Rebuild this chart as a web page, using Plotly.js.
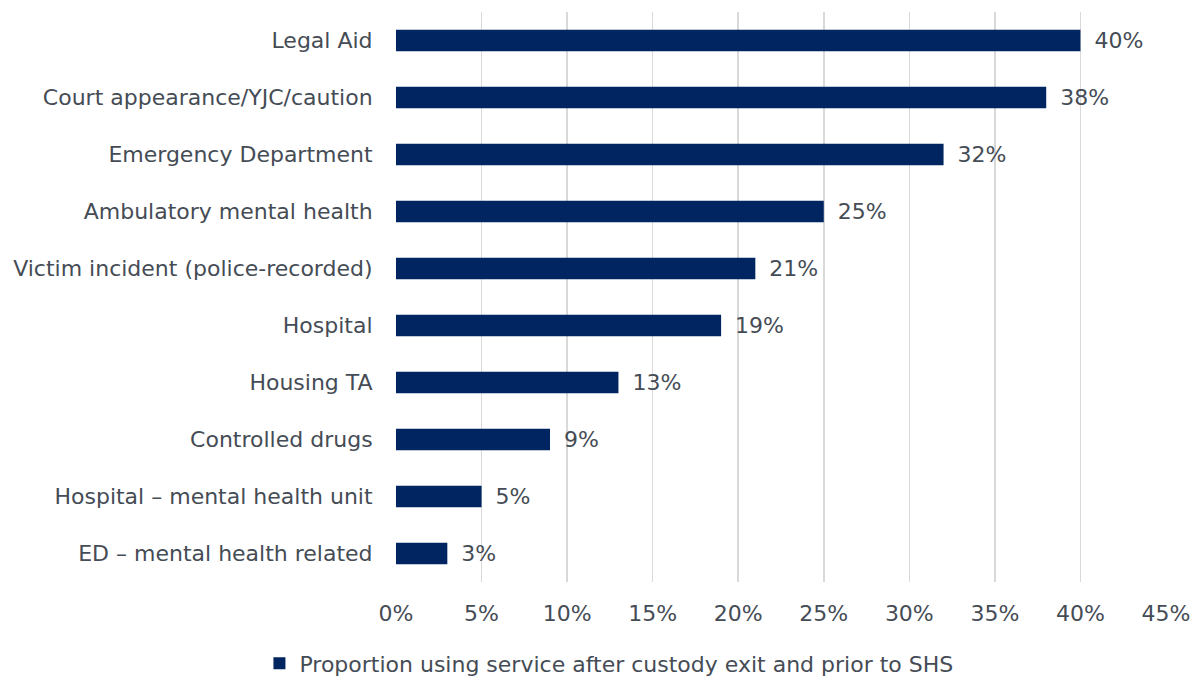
<!DOCTYPE html>
<html>
<head>
<meta charset="utf-8">
<script src="https://cdn.plot.ly/plotly-3.0.1.min.js"></script>
<style>
html,body{margin:0;padding:0;background:#fff;}
#chart{width:1194px;height:677px;}
</style>
</head>
<body>
<div id="chart"></div>
<script>
const categories = [
  "Legal Aid",
  "Court appearance/YJC/caution",
  "Emergency Department",
  "Ambulatory mental health",
  "Victim incident (police-recorded)",
  "Hospital",
  "Housing TA",
  "Controlled drugs",
  "Hospital \u2013 mental health unit",
  "ED \u2013 mental health related"
];
const values = [0.40, 0.38, 0.32, 0.25, 0.21, 0.19, 0.13, 0.09, 0.05, 0.03];
const seriesName = "Proportion using service after custody exit and prior to SHS";
const tickVals = [0, 0.05, 0.10, 0.15, 0.20, 0.25, 0.30, 0.35, 0.40, 0.45];

const textColor = "#454c55";
const fontFamily = "'DejaVu Sans', 'Open Sans', sans-serif";
const fontSize = 22;

const trace = {
  type: "bar",
  orientation: "h",
  y: categories,
  x: values,
  name: seriesName,
  marker: {color: "#012561"},
  width: 0.38,
  text: values.map(v => "\u2002" + Math.round(v * 100) + "%"),
  textposition: "outside",
  constraintext: "none",
  cliponaxis: false,
  textfont: {family: fontFamily, size: fontSize, color: textColor},
  hoverinfo: "none"
};

const layout = {
  width: 1194,
  height: 677,
  margin: {l: 396, r: 28, t: 12, b: 95},
  paper_bgcolor: "#ffffff",
  plot_bgcolor: "#ffffff",
  font: {family: fontFamily, size: fontSize, color: textColor},
  showlegend: true,
  legend: {
    orientation: "h",
    xref: "container",
    yref: "container",
    x: 0.51,
    xanchor: "center",
    y: 0.02,
    yanchor: "middle",
    itemwidth: 30,
    font: {family: fontFamily, size: fontSize, color: textColor}
  },
  xaxis: {
    range: [0, 0.45],
    tickvals: tickVals,
    tickformat: ".0%",
    showgrid: true,
    gridcolor: "#d9d9d9",
    gridwidth: 1.5,
    zeroline: false,
    showline: false,
    ticks: "outside",
    ticklen: 12,
    tickcolor: "rgba(0,0,0,0)",
    tickfont: {family: fontFamily, size: fontSize, color: textColor},
    fixedrange: true
  },
  yaxis: {
    autorange: "reversed",
    showgrid: false,
    zeroline: false,
    showline: false,
    ticks: "outside",
    ticklen: 18,
    tickcolor: "rgba(0,0,0,0)",
    tickfont: {family: fontFamily, size: fontSize, color: textColor},
    fixedrange: true
  },
  bargap: 0.6
};

Plotly.newPlot("chart", [trace], layout, {displayModeBar: false, staticPlot: true});
</script>
</body>
</html>
